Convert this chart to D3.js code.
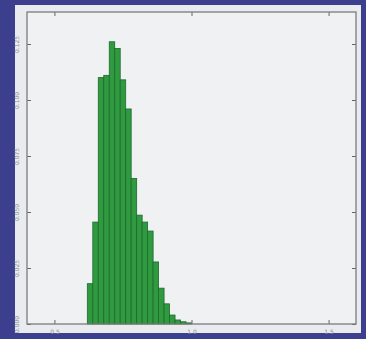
<!DOCTYPE html>
<html>
<head>
<meta charset="utf-8">
<script src="https://cdn.jsdelivr.net/npm/d3@7"></script>
<style>
  html, body { margin: 0; padding: 0; background: #3b3f8e; }
  svg { display: block; }
</style>
</head>
<body>
<div id="chart"></div>
<script>
// histogram bins (left edges) and bar heights
const binStarts = [0.62, 0.64, 0.66, 0.68, 0.70, 0.72, 0.74, 0.76, 0.78, 0.80,
                   0.82, 0.84, 0.86, 0.88, 0.90, 0.92, 0.94, 0.96, 0.98];
const binWidth = 0.02;
const heights = [0.018, 0.0455, 0.110, 0.111, 0.126, 0.123, 0.109, 0.096, 0.065, 0.0486,
                 0.0455, 0.0415, 0.0277, 0.016, 0.009, 0.004, 0.0018, 0.001, 0.0005];
const xTicks = [0.5, 1.0, 1.5];
const yTicks = [0.000, 0.025, 0.050, 0.075, 0.100, 0.125];

const W = 366, H = 339;
const svg = d3.select("#chart").append("svg")
    .attr("width", W)
    .attr("height", H);

// slide area
svg.append("rect")
    .attr("x", 15).attr("y", 5)
    .attr("width", 346).attr("height", 328)
    .attr("fill", "#e9ebee");

const axL = 27, axR = 356, axT = 12, axB = 324;

const x = d3.scaleLinear().domain([0.4, 1.6]).range([axL, axR]);
const y = d3.scaleLinear().domain([0, 0.14]).range([axB, axB - 0.14 / 0.025 * 56]);

svg.append("rect")
    .attr("x", axL).attr("y", axT)
    .attr("width", axR - axL).attr("height", axB - axT)
    .attr("fill", "#eff1f3");

const data = binStarts.map((b, i) => ({x0: b, x1: b + binWidth, h: heights[i]}));

svg.append("g").selectAll("rect")
    .data(data)
    .enter().append("rect")
    .attr("x", d => x(d.x0))
    .attr("y", d => y(d.h))
    .attr("width", d => x(d.x1) - x(d.x0))
    .attr("height", d => y(0) - y(d.h))
    .attr("fill", "#2f9a40")
    .attr("stroke", "#1d6a2a")
    .attr("stroke-width", 0.8);

// axes: ticks inward on all sides
const tickCol = "#666";
svg.append("g")
    .attr("transform", `translate(0,${axB})`)
    .call(d3.axisBottom(x).tickValues(xTicks).tickSize(-4).tickPadding(6).tickFormat(d3.format(".1f")))
    .call(g => g.select(".domain").remove());
svg.append("g")
    .attr("transform", `translate(0,${axT})`)
    .call(d3.axisTop(x).tickValues(xTicks).tickSize(-4).tickFormat(""))
    .call(g => g.select(".domain").remove());
const yAxisG = svg.append("g")
    .attr("transform", `translate(${axL},0)`)
    .call(d3.axisLeft(y).tickValues(yTicks).tickSize(-4).tickPadding(5).tickFormat(d3.format(".3f")))
    .call(g => g.select(".domain").remove());
svg.append("g")
    .attr("transform", `translate(${axR},0)`)
    .call(d3.axisRight(y).tickValues(yTicks).tickSize(-4).tickFormat(""))
    .call(g => g.select(".domain").remove());

svg.selectAll(".tick line").attr("stroke", tickCol);
svg.selectAll(".tick text")
    .attr("fill", "#8a8d94")
    .style("font-family", "DejaVu Sans")
    .style("font-size", "6px");

// rotate y tick labels to read upwards
yAxisG.selectAll(".tick text")
    .attr("transform", "rotate(-90)")
    .attr("x", 0)
    .attr("y", -8)
    .attr("dy", 0)
    .attr("text-anchor", "middle");

svg.append("rect")
    .attr("x", axL).attr("y", axT)
    .attr("width", axR - axL).attr("height", axB - axT)
    .attr("fill", "none")
    .attr("stroke", "#7a7c80")
    .attr("stroke-width", 1.3);
</script>
</body>
</html>
